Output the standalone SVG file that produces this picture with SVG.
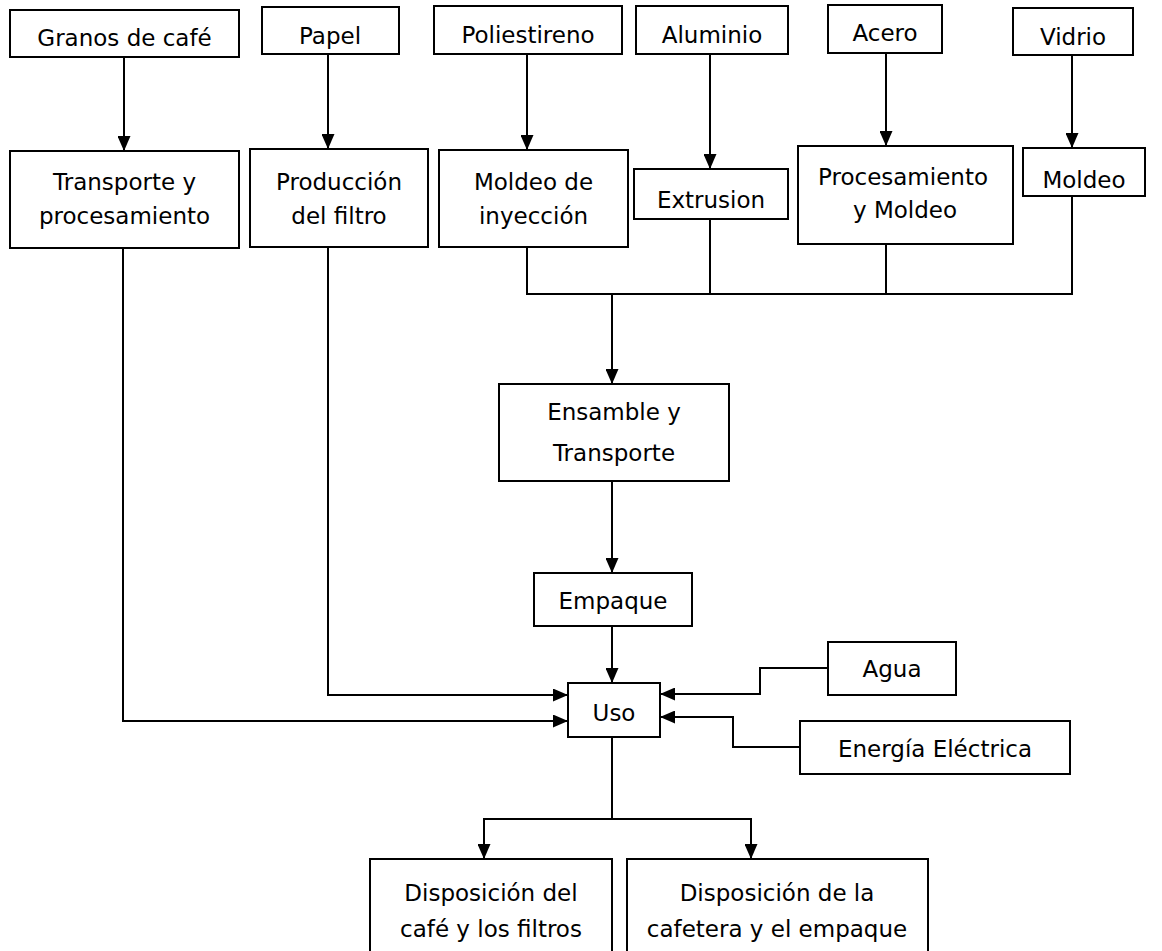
<svg xmlns="http://www.w3.org/2000/svg" width="1162" height="951" viewBox="0 0 1162 951">
  <style>
    .box { fill: #ffffff; stroke: #000000; stroke-width: 2; }
    .lbl { font-family: "DejaVu Sans", "Liberation Sans", sans-serif; font-size: 23px; fill: #000000; text-anchor: middle; }
    .ln { fill: none; stroke: #000000; stroke-width: 2; }
    .arr { marker-end: url(#tip); }
  </style>
  <defs>
    <marker id="tip" markerUnits="userSpaceOnUse" markerWidth="15" markerHeight="13" refX="15" refY="6.5" orient="auto">
      <path d="M0,0 L15,6.5 L0,13 Z" fill="#000000"/>
    </marker>
  </defs>
  <rect width="1162" height="951" fill="#ffffff"/>

  <!-- connectors -->
  <g id="connectors">
    <line class="ln arr" x1="124" y1="57" x2="124" y2="151"/>
    <line class="ln arr" x1="328" y1="54" x2="328" y2="149"/>
    <line class="ln arr" x1="527" y1="54" x2="527" y2="150"/>
    <line class="ln arr" x1="710" y1="54" x2="710" y2="169"/>
    <line class="ln arr" x1="886" y1="53" x2="886" y2="146"/>
    <line class="ln arr" x1="1072" y1="55" x2="1072" y2="148"/>
    <!-- collector bus for molded parts -->
    <polyline class="ln" points="527,247 527,294 1072,294 1072,196"/>
    <line class="ln" x1="710" y1="219" x2="710" y2="294"/>
    <line class="ln" x1="886" y1="244" x2="886" y2="294"/>
    <line class="ln arr" x1="612" y1="294" x2="612" y2="384"/>
    <line class="ln arr" x1="612" y1="481" x2="612" y2="573"/>
    <line class="ln arr" x1="612" y1="627" x2="612" y2="683"/>
    <polyline class="ln arr" points="123,248 123,721 568,721"/>
    <polyline class="ln arr" points="328,247 328,695 568,695"/>
    <polyline class="ln arr" points="828,668 760,668 760,694 660,694"/>
    <polyline class="ln arr" points="800,747 733,747 733,717 660,717"/>
    <!-- disposal split -->
    <polyline class="ln" points="612,737 612,819"/>
    <polyline class="ln arr" points="612,819 484,819 484,859"/>
    <polyline class="ln arr" points="612,819 751,819 751,859"/>
  </g>

  <g id="granos"><rect class="box" x="10" y="10" width="229" height="47"/><text class="lbl" x="124.5" y="46">Granos de café</text></g>
  <g id="papel"><rect class="box" x="262" y="7" width="137" height="47"/><text class="lbl" x="330" y="44">Papel</text></g>
  <g id="poliestireno"><rect class="box" x="434" y="6" width="188" height="48"/><text class="lbl" x="528" y="43">Poliestireno</text></g>
  <g id="aluminio"><rect class="box" x="636" y="6" width="152" height="48"/><text class="lbl" x="712" y="43">Aluminio</text></g>
  <g id="acero"><rect class="box" x="828" y="5" width="114" height="48"/><text class="lbl" x="885" y="41">Acero</text></g>
  <g id="vidrio"><rect class="box" x="1013" y="8" width="120" height="47"/><text class="lbl" x="1073" y="45">Vidrio</text></g>

  <g id="transporte"><rect class="box" x="10" y="151" width="229" height="97"/><text class="lbl" x="124.5" y="190">Transporte y</text><text class="lbl" x="124.5" y="224">procesamiento</text></g>
  <g id="produccion"><rect class="box" x="250" y="149" width="178" height="98"/><text class="lbl" x="339" y="190">Producción</text><text class="lbl" x="339" y="224">del filtro</text></g>
  <g id="moldeo-inyeccion"><rect class="box" x="439" y="150" width="189" height="97"/><text class="lbl" x="533.5" y="190">Moldeo de</text><text class="lbl" x="533.5" y="224">inyección</text></g>
  <g id="extrusion"><rect class="box" x="634" y="169" width="154" height="50"/><text class="lbl" x="711" y="208">Extrusion</text></g>
  <g id="procesamiento"><rect class="box" x="798" y="146" width="215" height="98"/><text class="lbl" x="903" y="185">Procesamiento</text><text class="lbl" x="905" y="218">y Moldeo</text></g>
  <g id="moldeo"><rect class="box" x="1023" y="148" width="122" height="48"/><text class="lbl" x="1084" y="188">Moldeo</text></g>

  <g id="ensamble"><rect class="box" x="499" y="384" width="230" height="97"/><text class="lbl" x="614" y="420">Ensamble y</text><text class="lbl" x="614" y="461">Transporte</text></g>
  <g id="empaque"><rect class="box" x="534" y="573" width="158" height="53"/><text class="lbl" x="613" y="609">Empaque</text></g>
  <g id="uso"><rect class="box" x="568" y="683" width="92" height="54"/><text class="lbl" x="614" y="721">Uso</text></g>
  <g id="agua"><rect class="box" x="828" y="642" width="128" height="53"/><text class="lbl" x="892" y="677">Agua</text></g>
  <g id="energia"><rect class="box" x="800" y="721" width="270" height="53"/><text class="lbl" x="935" y="757">Energía Eléctrica</text></g>

  <g id="disposicion-cafe"><rect class="box" x="370" y="859" width="242" height="110"/><text class="lbl" x="491" y="901">Disposición del</text><text class="lbl" x="491" y="937">café y los filtros</text></g>
  <g id="disposicion-cafetera"><rect class="box" x="627" y="859" width="301" height="110"/><text class="lbl" x="777" y="901">Disposición de la</text><text class="lbl" x="777" y="937">cafetera y el empaque</text></g>
</svg>
